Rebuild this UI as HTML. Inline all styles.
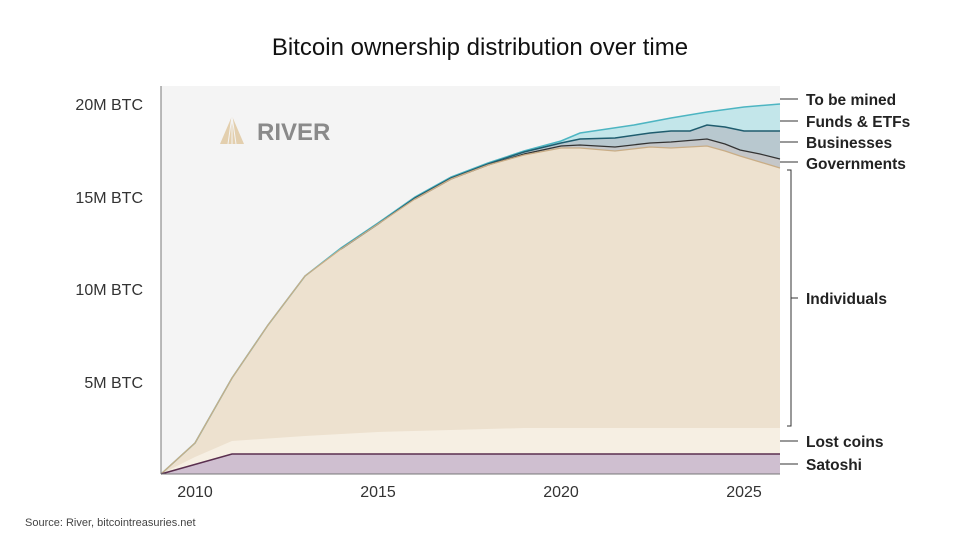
<!DOCTYPE html><html><head><style>body{margin:0;background:#fff}svg{display:block}text{font-family:"Liberation Sans",sans-serif}</style></head><body>
<svg width="960" height="540" viewBox="0 0 960 540">
<rect x="161" y="86" width="619" height="388" fill="#f4f4f4"/>
<text x="480" y="55" text-anchor="middle" font-size="24" fill="#111">Bitcoin ownership distribution over time</text>
<g transform="translate(220,116)"><path d="M12 0 L0 28 L24 28 Z" fill="#e3cfae"/><path d="M12 0 L8 28 M12 0 L12 28 M12 0 L16 28" stroke="#f4f4f4" stroke-width="1"/></g>
<text x="257" y="140" font-size="24" font-weight="bold" fill="#8a8a8a">RIVER</text>
<polygon fill="#c3e6ea" points="161,474 195,443 232,378 268,325 305,276 341,248 378,223 415,197 451,177 488,163 524,151 561,141 580,133 634,125 671,118 707,112 744,107 780,104 780,131 760,131 744,131 725,127 707,125 690,131 671,131 650,133 615,138 580,139 561,143 524,152 780,474"/>
<polygon fill="#b8c8cf" points="524,152 561,143 580,139 615,138 650,133 671,131 690,131 707,125 725,127 744,131 760,131 780,131 780,159 760,154 740,150 725,144 707,139 671,142 650,143 615,147 580,145 561,146 524,154"/>
<polygon fill="#c5c7c9" points="524,154 561,146 580,145 615,147 650,143 671,142 707,139 725,144 740,150 760,154 780,159 780,168 760,162 740,156 725,151 707,146 671,148 650,147 615,151 580,148 561,148 524,155"/>
<polygon fill="#ede1cf" points="161,474 195,443 232,378 268,325 305,276 341,249 378,224 415,199 451,179 488,165 524,155 561,148 580,148 615,151 650,147 671,148 707,146 725,151 740,156 760,162 780,168 780,474"/>
<polygon fill="#f6efe3" points="161,474 195,457 232,441 305,436 378,432 451,430 524,428 780,428 780,474"/>
<polygon fill="#cfbfd0" points="161,474 232,454 780,454 780,474"/>
<polyline fill="none" stroke="#4db5c2" stroke-width="1.5" points="161,474 195,443 232,378 268,325 305,276 341,248 378,223 415,197 451,177 488,163 524,151 561,141 580,133 634,125 671,118 707,112 744,107 780,104"/>
<polyline fill="none" stroke="#1f5c6e" stroke-width="1.5" points="341,249 378,224 415,198 451,178 488,164 524,152 561,143 580,139 615,138 650,133 671,131 690,131 707,125 725,127 744,131 760,131 780,131"/>
<polyline fill="none" stroke="#333" stroke-width="1.3" points="415,199 451,179 488,165 524,154 561,146 580,145 615,147 650,143 671,142 707,139 725,144 740,150 760,154 780,159"/>
<polyline fill="none" stroke="#c9ad86" stroke-width="1.3" points="161,474 195,443 232,378 268,325 305,276 341,249 378,224 415,199 451,179 488,165 524,155 561,148 580,148 615,151 650,147 671,148 707,146 725,151 740,156 760,162 780,168"/>
<polyline fill="none" stroke="#5a2f4f" stroke-width="1.5" points="161,474 232,454 780,454"/>
<line x1="161" y1="86" x2="161" y2="474" stroke="#777"/>
<line x1="161" y1="474" x2="780" y2="474" stroke="#777"/>
<g font-size="16" fill="#333" text-anchor="end">
<text x="143" y="110">20M BTC</text><text x="143" y="203">15M BTC</text><text x="143" y="295">10M BTC</text><text x="143" y="388">5M BTC</text></g>
<g font-size="16" fill="#333" text-anchor="middle">
<text x="195" y="497">2010</text><text x="378" y="497">2015</text><text x="561" y="497">2020</text><text x="744" y="497">2025</text></g>
<g stroke="#333" stroke-width="1" fill="none">
<line x1="780" y1="99" x2="798" y2="99"/><line x1="780" y1="121" x2="798" y2="121"/><line x1="780" y1="142" x2="798" y2="142"/><line x1="780" y1="162" x2="798" y2="162"/>
<polyline points="787,170 791,170 791,426 787,426"/><line x1="791" y1="298" x2="798" y2="298"/>
<line x1="780" y1="441" x2="798" y2="441"/><line x1="780" y1="464" x2="798" y2="464"/></g>
<g font-size="15.5" font-weight="bold" fill="#222">
<text x="806" y="105">To be mined</text><text x="806" y="127">Funds &amp; ETFs</text><text x="806" y="148">Businesses</text><text x="806" y="169">Governments</text><text x="806" y="304">Individuals</text><text x="806" y="447">Lost coins</text><text x="806" y="470">Satoshi</text></g>
<text x="25" y="526" font-size="11" fill="#444">Source: River, bitcointreasuries.net</text>
</svg></body></html>
